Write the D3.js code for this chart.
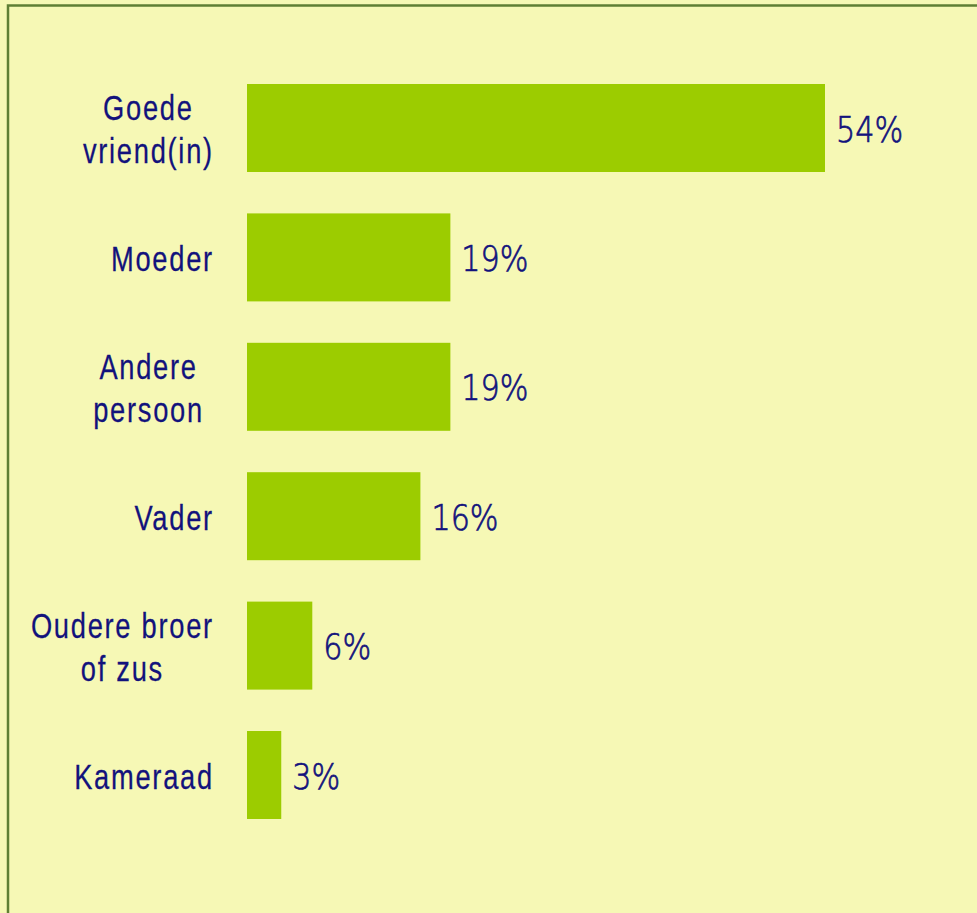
<!DOCTYPE html>
<html>
<head>
<meta charset="utf-8">
<script src="https://cdn.jsdelivr.net/npm/d3@7"></script>
<style>
  html, body { margin: 0; padding: 0; background: #f6f8b5; }
  svg { display: block; }
</style>
</head>
<body>
<div id="chart"></div>
<script>
var categories = [["Goede", "vriend(in)"], ["Moeder"], ["Andere", "persoon"], ["Vader"], ["Oudere broer", "of zus"], ["Kameraad"]]
var values = [54, 19, 19, 16.2, 6.1, 3.2]
var valueLabels = ["54%", "19%", "19%", "16%", "6%", "3%"]

var width = 977, height = 913
var textColor = "#12127c"
var labelFont = "'Liberation Sans', Arial, sans-serif"
var valueFont = "'DejaVu Sans ExtraLight', 'DejaVu Sans', sans-serif"
var labelScale = 0.78   // condensed look
var valueScale = 0.84
var labelRight = 213
// the wrapped "Andere persoon" box sits a little further left in the original
var labelNudge = {2: -10}

var svg = d3.select("#chart").append("svg")
    .attr("width", width)
    .attr("height", height)

svg.append("rect")
    .attr("width", width)
    .attr("height", height)
    .attr("fill", "#f6f8b5")

// frame lines (left and top)
svg.append("path")
    .attr("d", "M8," + height + "V5.5H" + width)
    .attr("fill", "none")
    .attr("stroke", "#5f7f34")
    .attr("stroke-width", 2.5)

var x = d3.scaleLinear()
    .domain([0, 54])
    .range([247, 825])

var y = d3.scaleBand()
    .domain(d3.range(values.length))
    .range([63.3, 839.7])
    .paddingInner(0.32)
    .paddingOuter(0.16)

svg.append("g").selectAll("rect")
    .data(values)
    .join("rect")
    .attr("x", x(0))
    .attr("y", (d, i) => y(i))
    .attr("width", d => x(d) - x(0))
    .attr("height", y.bandwidth())
    .attr("fill", "#9ccc00")

// value labels
svg.append("g").selectAll("g")
    .data(values)
    .join("g")
    .attr("transform", (d, i) => "translate(" + (x(d) + 11) + "," + (y(i) + y.bandwidth() / 2 + 13.5) + ") scale(" + valueScale + ",1)")
    .append("text")
    .attr("font-family", valueFont)
    .attr("font-weight", 200)
    .attr("font-size", 36)
    .attr("fill", textColor)
    .attr("stroke", textColor)
    .attr("stroke-width", 0.7)
    .text((d, i) => valueLabels[i])

// category labels: block right-aligned, lines centred inside the block
var lineH = 43
var labelGroups = svg.append("g").selectAll("g")
    .data(categories)
    .join("g")

labelGroups.each(function(lines, i) {
    var g = d3.select(this)
    var cy = y(i) + y.bandwidth() / 2 + 13.5
    var y0 = cy - (lines.length - 1) * lineH / 2
    var texts = lines.map((line, j) => {
        return g.append("text")
            .attr("font-family", labelFont)
            .attr("font-size", 35)
            .attr("letter-spacing", 2.2)
            .attr("text-anchor", "middle")
            .attr("fill", textColor)
            .attr("stroke", textColor)
            .attr("stroke-width", 0.25)
            .text(line)
    })
    var maxW = d3.max(texts, t => t.node().getComputedTextLength() - 2.2) * labelScale
    var cx = labelRight + (labelNudge[i] || 0) - maxW / 2
    texts.forEach((t, j) => {
        t.attr("transform", "translate(" + cx + "," + (y0 + j * lineH) + ") scale(" + labelScale + ",1)")
    })
})
</script>
</body>
</html>
